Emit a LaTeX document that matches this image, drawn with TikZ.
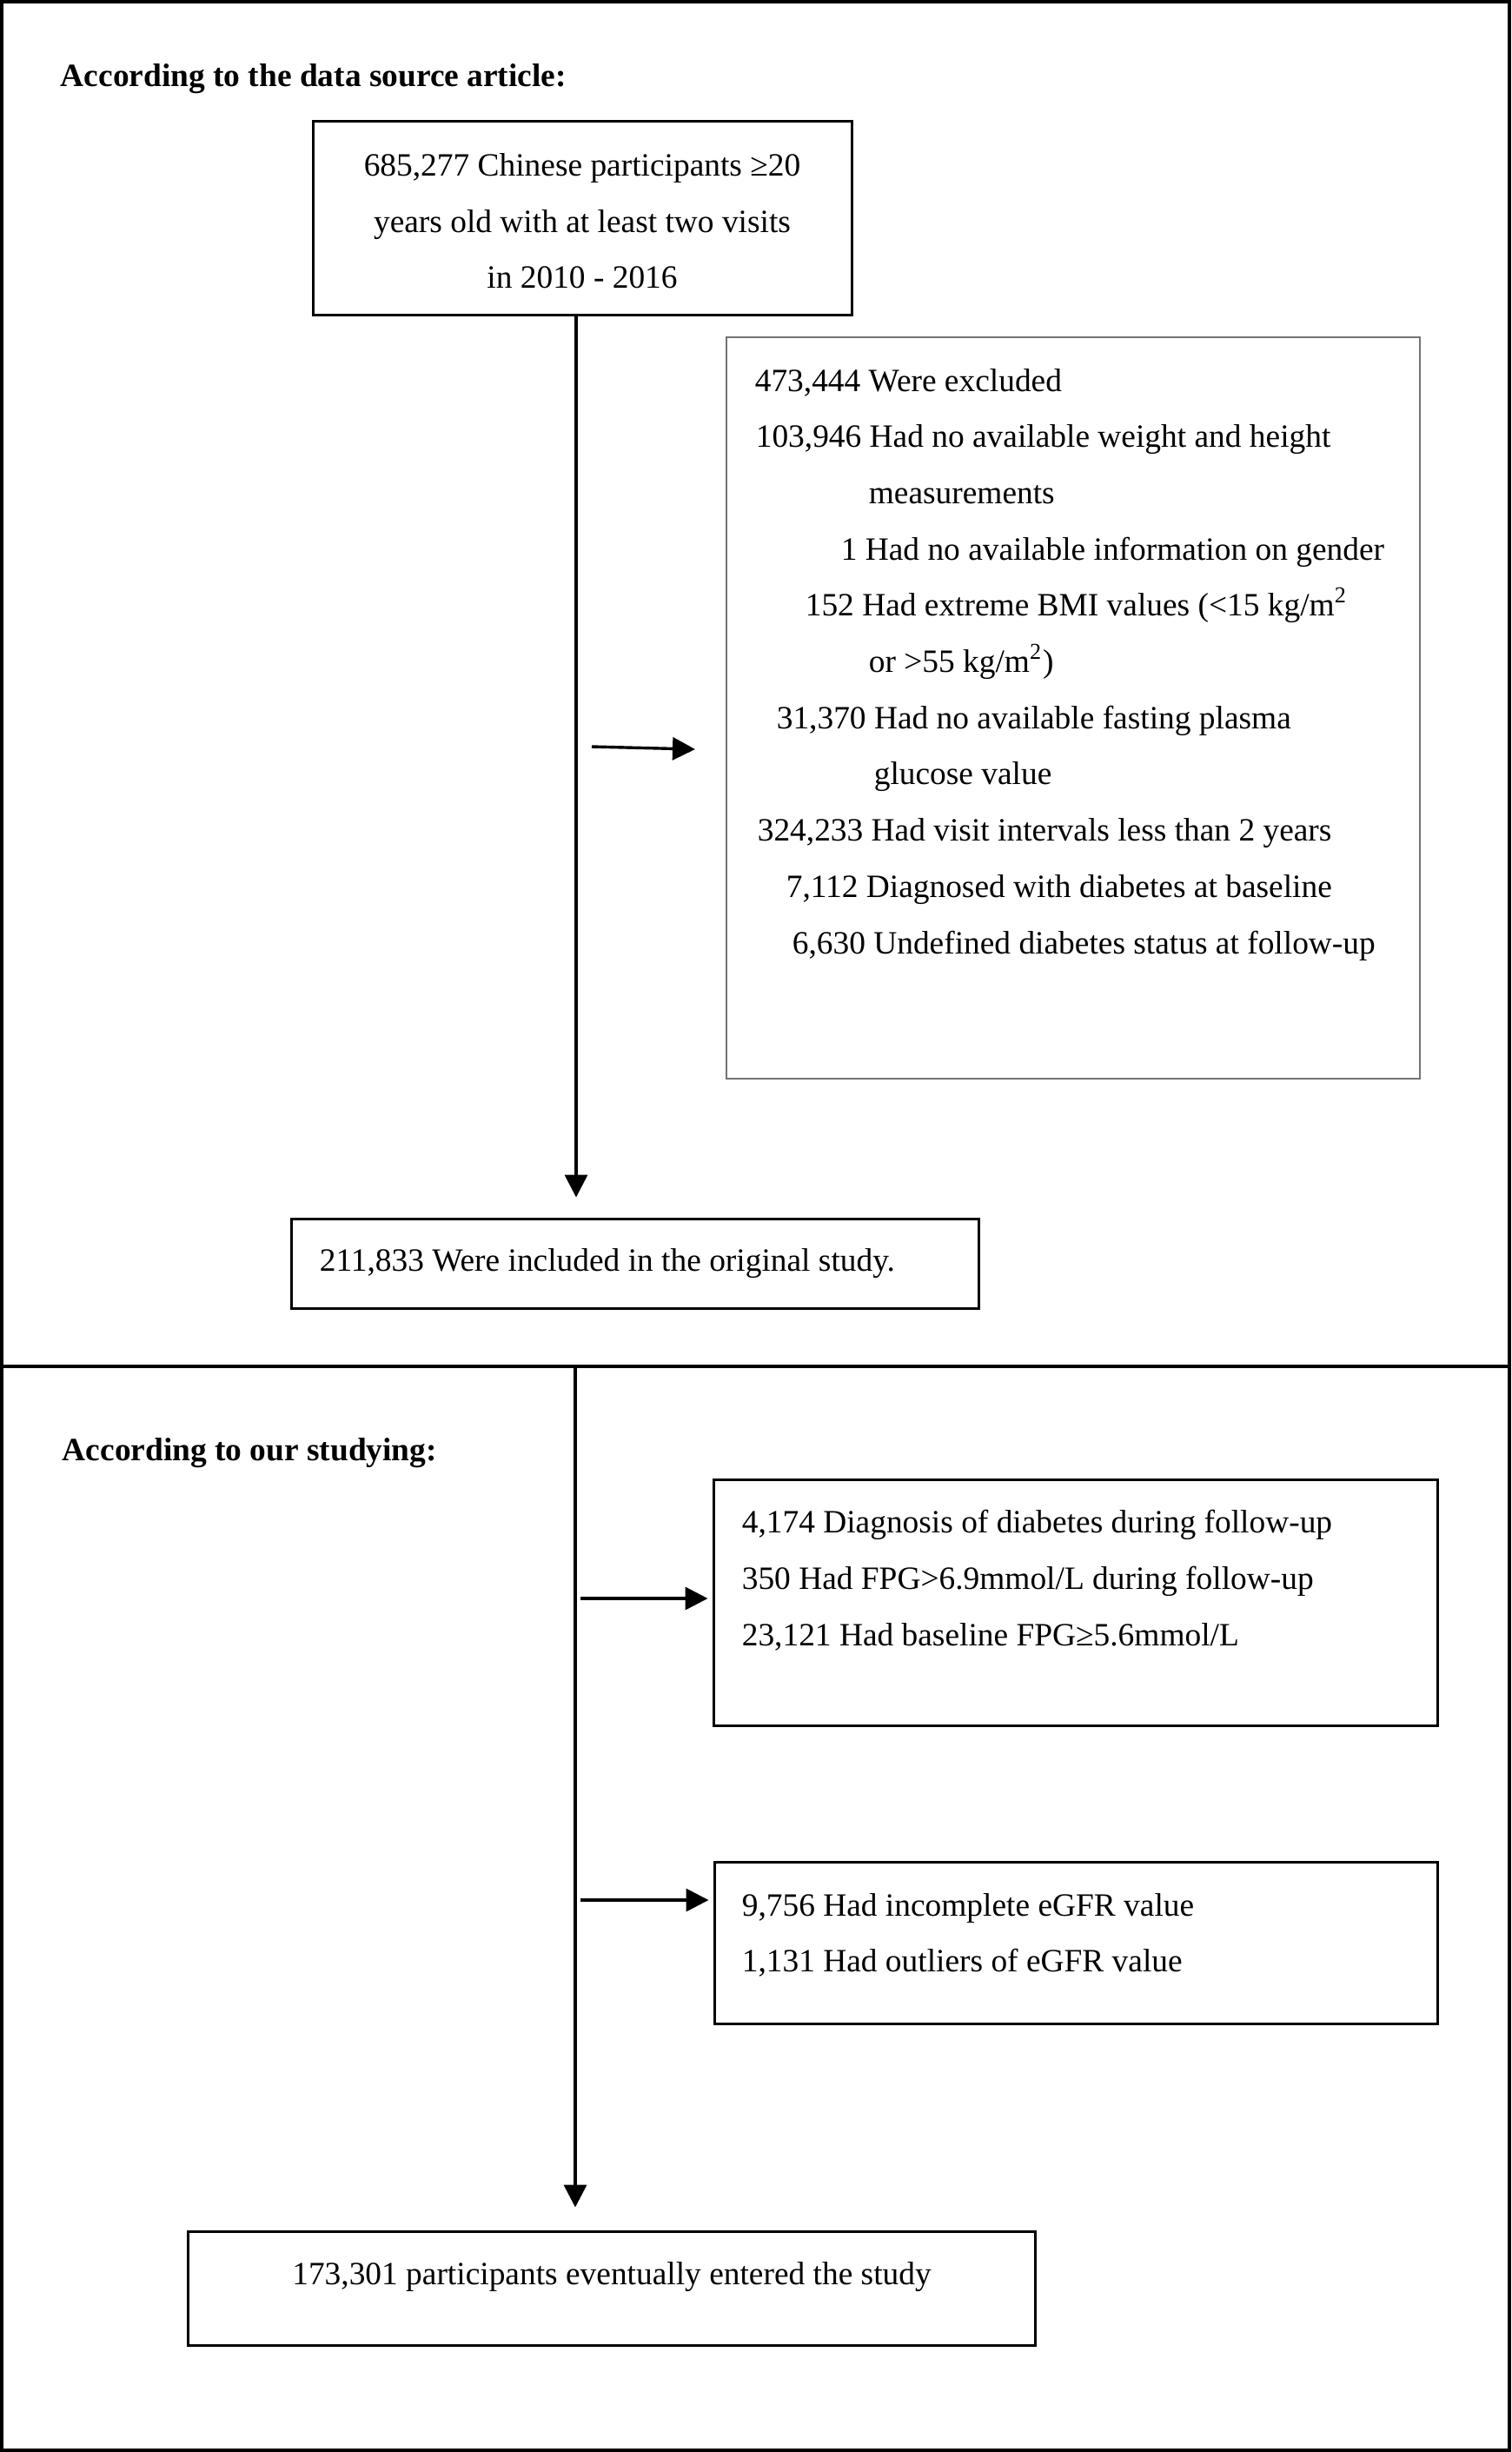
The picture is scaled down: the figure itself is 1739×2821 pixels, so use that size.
\documentclass[tikz,border=0pt]{standalone}
\usepackage{fontspec}
\setmainfont{Liberation Serif}
\usetikzlibrary{arrows.meta,calc}
\begin{document}
\begin{tikzpicture}[x=0.25pt,y=-0.25pt,
  every node/.style={font=\fontsize{9.35pt}{16pt}\selectfont},
  frm/.style={draw,line width=1pt,inner sep=0pt},
  box/.style={draw,line width=0.75pt,inner sep=0pt},
  xbox/.style={draw=black!55,line width=0.5pt,inner sep=0pt},
  txt/.style={inner sep=0pt,anchor=base west},
  ctxt/.style={inner sep=0pt,anchor=base},
  ttl/.style={inner sep=0pt,anchor=base west,font=\fontsize{9.35pt}{16pt}\selectfont\bfseries},
  arr/.style={line width=0.9pt,-{Triangle[length=6.5pt,width=6.5pt]}},
  harr/.style={line width=0.85pt,-{Triangle[length=6.5pt,width=6.5pt]}},
  divl/.style={line width=0.9pt}]
\useasboundingbox (0,0) rectangle (1739,2821);
% frame
\node[frm,minimum width=433.75pt,minimum height=704.25pt] (fr) at (869.5,1410.5) {};
\coordinate (div) at (0,1572);
\draw[divl] (fr.west |- div) -- (fr.east |- div);
% titles
\node[ttl] (t1) at (69,99) {According to the data source article:};
\node[ttl] (t2) at (71,1680) {According to our studying:};
% boxes
\node[box,minimum width=155pt,minimum height=55.75pt] (b1) at (670,250.5) {};
\node[xbox,minimum width=199.5pt,minimum height=213.25pt] (b2) at (1235,814.5) {};
\node[box,minimum width=197.75pt,minimum height=25.75pt] (b3) at (730.5,1453.5) {};
\node[box,minimum width=208.25pt,minimum height=70.75pt] (b4) at (1237.5,1843.5) {};
\node[box,minimum width=208pt,minimum height=46.5pt] (b5) at (1238,2235) {};
\node[box,minimum width=243.75pt,minimum height=32.75pt] (b6) at (703.5,2632.5) {};
% box 1 text
\node[ctxt] (b1l1) at (670,202) {685,277 Chinese participants ≥20};
\node[ctxt] (b1l2) at (670,267) {years old with at least two visits};
\node[ctxt] (b1l3) at (670,331) {in 2010 - 2016};
% box 2 text
\node[txt] (b2l1) at (868,450) {473,444 Were excluded};
\node[txt] (b2l2) at (869,514.7) {103,946 Had no available weight and height};
\node[txt] (b2l3) at (999,579.4) {measurements};
\node[txt] (b2l4) at (967,644.1) {1 Had no available information on gender};
\node[txt] (b2l5) at (926,708.8) {152 Had extreme BMI values (<15 kg/m\textsuperscript{2}};
\node[txt] (b2l6) at (999,773.5) {or >55 kg/m\textsuperscript{2})};
\node[txt] (b2l7) at (893,838.2) {31,370 Had no available fasting plasma};
\node[txt] (b2l8) at (1005,902.9) {glucose value};
\node[txt] (b2l9) at (871,967.6) {324,233 Had visit intervals less than 2 years};
\node[txt] (b2l10) at (904,1032.3) {7,112 Diagnosed with diabetes at baseline};
\node[txt] (b2l11) at (911,1097) {6,630 Undefined diabetes status at follow-up};
% box 3 text
\node[txt] (b3l1) at (367,1462) {211,833 Were included in the original study.};
% box 4 text
\node[txt] (b4l1) at (853,1763) {4,174 Diagnosis of diabetes during follow-up};
\node[txt] (b4l2) at (853,1828) {350 Had FPG>6.9mmol/L during follow-up};
\node[txt] (b4l3) at (853,1893) {23,121 Had baseline FPG≥5.6mmol/L};
% box 5 text
\node[txt] (b5l1) at (853,2204) {9,756 Had incomplete eGFR value};
\node[txt] (b5l2) at (853,2268) {1,131 Had outliers of eGFR value};
% box 6 text
\node[ctxt] (b6l1) at (704,2628) {173,301 participants eventually entered the study};
% connectors
\coordinate (sp1) at (663,0);
\coordinate (sp2) at (662,0);
\draw[arr,shorten >=5.75pt] (b1.south -| sp1) -- (b3.north -| sp1);
\draw[arr,shorten >=6.5pt] (div -| sp2) -- (b6.north -| sp2);
\coordinate (a1s) at (681,859);
\draw[harr] (a1s) -- ($(b2.west)+(-35,47.5)$);
\coordinate (a2s) at (668,1839);
\draw[harr,shorten >=1.25pt] (a2s) -- (b4.west |- a2s);
\coordinate (a3s) at (668,2186);
\draw[harr,shorten >=1.25pt] (a3s) -- (b5.west |- a3s);
\end{tikzpicture}
\end{document}
